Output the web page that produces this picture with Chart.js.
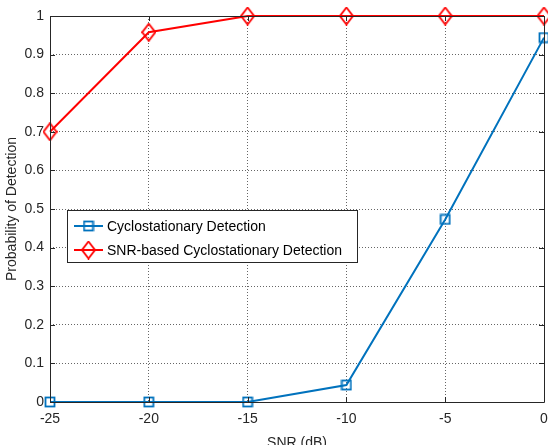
<!DOCTYPE html>
<html>
<head>
<meta charset="utf-8">
<script src="https://cdn.jsdelivr.net/npm/chart.js@4"></script>
<style>
html,body{margin:0;padding:0;background:#fff;overflow:hidden;}
#wrap{width:548px;height:445px;}
</style>
</head>
<body>
<div id="wrap"><canvas id="c" width="548" height="445"></canvas></div>
<script>
const snr = [-25, -20, -15, -10, -5, 0];
const cycloDetection = [0, 0, 0, 0.044, 0.473, 0.944];
const snrCycloDetection = [0.70, 0.958, 1, 1, 1, 1];
const seriesLabels = ['Cyclostationary Detection', 'SNR-based Cyclostationary Detection'];
const xTicks = [-25, -20, -15, -10, -5, 0];
const yTicks = [0, 0.1, 0.2, 0.3, 0.4, 0.5, 0.6, 0.7, 0.8, 0.9, 1];

const FONT = 'Liberation Sans, Arial, Helvetica, sans-serif';
const AXIS = '#262626';
const BLUE = '#0072BD';
const RED = '#FF0000';

function makeMarker(kind, color) {
  const c = document.createElement('canvas');
  if (kind === 'square') {
    c.width = 12; c.height = 12;
    const g = c.getContext('2d');
    g.strokeStyle = color; g.lineWidth = 1.8;
    g.strokeRect(1.5, 1.5, 9, 9);
  } else {
    c.width = 15; c.height = 19;
    const g = c.getContext('2d');
    g.strokeStyle = color; g.lineWidth = 1.8;
    g.beginPath();
    g.moveTo(7.5, 1); g.lineTo(14, 9.5); g.lineTo(7.5, 18); g.lineTo(1, 9.5); g.closePath();
    g.stroke();
  }
  return c;
}
const squareMk = makeMarker('square', BLUE);
const diamondMk = makeMarker('diamond', RED);

const boxPlugin = {
  id: 'boxPlugin',
  afterDatasetsDraw(chart) {
    const ctx = chart.ctx;
    const a = chart.chartArea;
    const xs = chart.scales.x, ys = chart.scales.y;
    ctx.save();
    ctx.strokeStyle = AXIS;
    ctx.lineWidth = 1;
    ctx.beginPath();
    ctx.rect(Math.round(a.left) + 0.5, Math.round(a.top) + 0.5, Math.round(a.right - a.left), Math.round(a.bottom - a.top));
    ctx.stroke();
    ctx.beginPath();
    xTicks.forEach(v => {
      const px = Math.round(xs.getPixelForValue(v)) + 0.5;
      ctx.moveTo(px, a.bottom); ctx.lineTo(px, a.bottom - 5);
      ctx.moveTo(px, a.top); ctx.lineTo(px, a.top + 5);
    });
    yTicks.forEach(v => {
      const py = Math.round(ys.getPixelForValue(v)) + 0.5;
      ctx.moveTo(a.left, py); ctx.lineTo(a.left + 5, py);
      ctx.moveTo(a.right, py); ctx.lineTo(a.right - 5, py);
    });
    ctx.stroke();

    const lx = 67.5, ly = 210.5, lw = 290, lh = 52;
    ctx.fillStyle = '#fff';
    ctx.fillRect(lx, ly, lw, lh);
    ctx.strokeStyle = AXIS;
    ctx.strokeRect(lx, ly, lw, lh);
    const rows = [226, 250];
    chart.data.datasets.forEach((ds, i) => {
      const y = rows[i];
      ctx.strokeStyle = ds.borderColor;
      ctx.lineWidth = 2;
      ctx.beginPath(); ctx.moveTo(74, y); ctx.lineTo(103, y); ctx.stroke();
      const img = ds.pointStyle;
      ctx.drawImage(img, 88.5 - img.width / 2, y - img.height / 2);
      ctx.fillStyle = '#000';
      ctx.font = '14px ' + FONT;
      ctx.textBaseline = 'middle';
      ctx.textAlign = 'left';
      ctx.fillText(ds.label, 107, y + 1);
    });
    ctx.restore();
  }
};

new Chart(document.getElementById('c'), {
  type: 'line',
  data: {
    datasets: [
      {
        label: seriesLabels[0],
        data: snr.map((x, i) => ({x: x, y: cycloDetection[i]})),
        borderColor: BLUE, backgroundColor: 'transparent',
        borderWidth: 2, pointStyle: squareMk, pointRadius: 6,
        tension: 0, clip: false
      },
      {
        label: seriesLabels[1],
        data: snr.map((x, i) => ({x: x, y: snrCycloDetection[i]})),
        borderColor: RED, backgroundColor: 'transparent',
        borderWidth: 2, pointStyle: diamondMk, pointRadius: 7,
        tension: 0, clip: false
      }
    ]
  },
  options: {
    responsive: false,
    animation: false,
    devicePixelRatio: 1,
    layout: { autoPadding: false, padding: { top: 16, right: 4, left: 0, bottom: 0 } },
    plugins: { legend: { display: false }, tooltip: { enabled: false } },
    scales: {
      x: {
        type: 'linear', min: -25, max: 0,
        afterBuildTicks(s) { s.ticks = xTicks.map(v => ({value: v})); },
        afterFit(s) { s.height = 43; s.paddingLeft = 0; s.paddingRight = 0; },
        grid: { color: 'rgba(0,0,0,0.6)', borderDash: [1, 2], drawTicks: false, lineWidth: 1 },
        border: { display: false, dash: [1, 2] },
        ticks: { padding: 9, color: '#262626', font: { family: FONT, size: 14 }, maxRotation: 0,
                 callback: v => String(v) },
        title: { display: true, text: 'SNR (dB)', color: '#262626', font: { family: FONT, size: 14 },
                 padding: { top: 0, bottom: -7 } }
      },
      y: {
        type: 'linear', min: 0, max: 1,
        afterBuildTicks(s) { s.ticks = yTicks.map(v => ({value: v})); },
        afterFit(s) { s.width = 50; s.paddingTop = 0; s.paddingBottom = 0; },
        grid: { color: 'rgba(0,0,0,0.6)', borderDash: [1, 2], drawTicks: false, lineWidth: 1 },
        border: { display: false, dash: [1, 2] },
        ticks: { padding: 6, color: '#262626', font: { family: FONT, size: 14 },
                 callback: v => String(Math.round(v * 10) / 10) },
        title: { display: true, text: 'Probability of Detection', color: '#262626', font: { family: FONT, size: 14 },
                 padding: { top: 4, bottom: 0 } }
      }
    }
  },
  plugins: [boxPlugin]
});
</script>
</body>
</html>
